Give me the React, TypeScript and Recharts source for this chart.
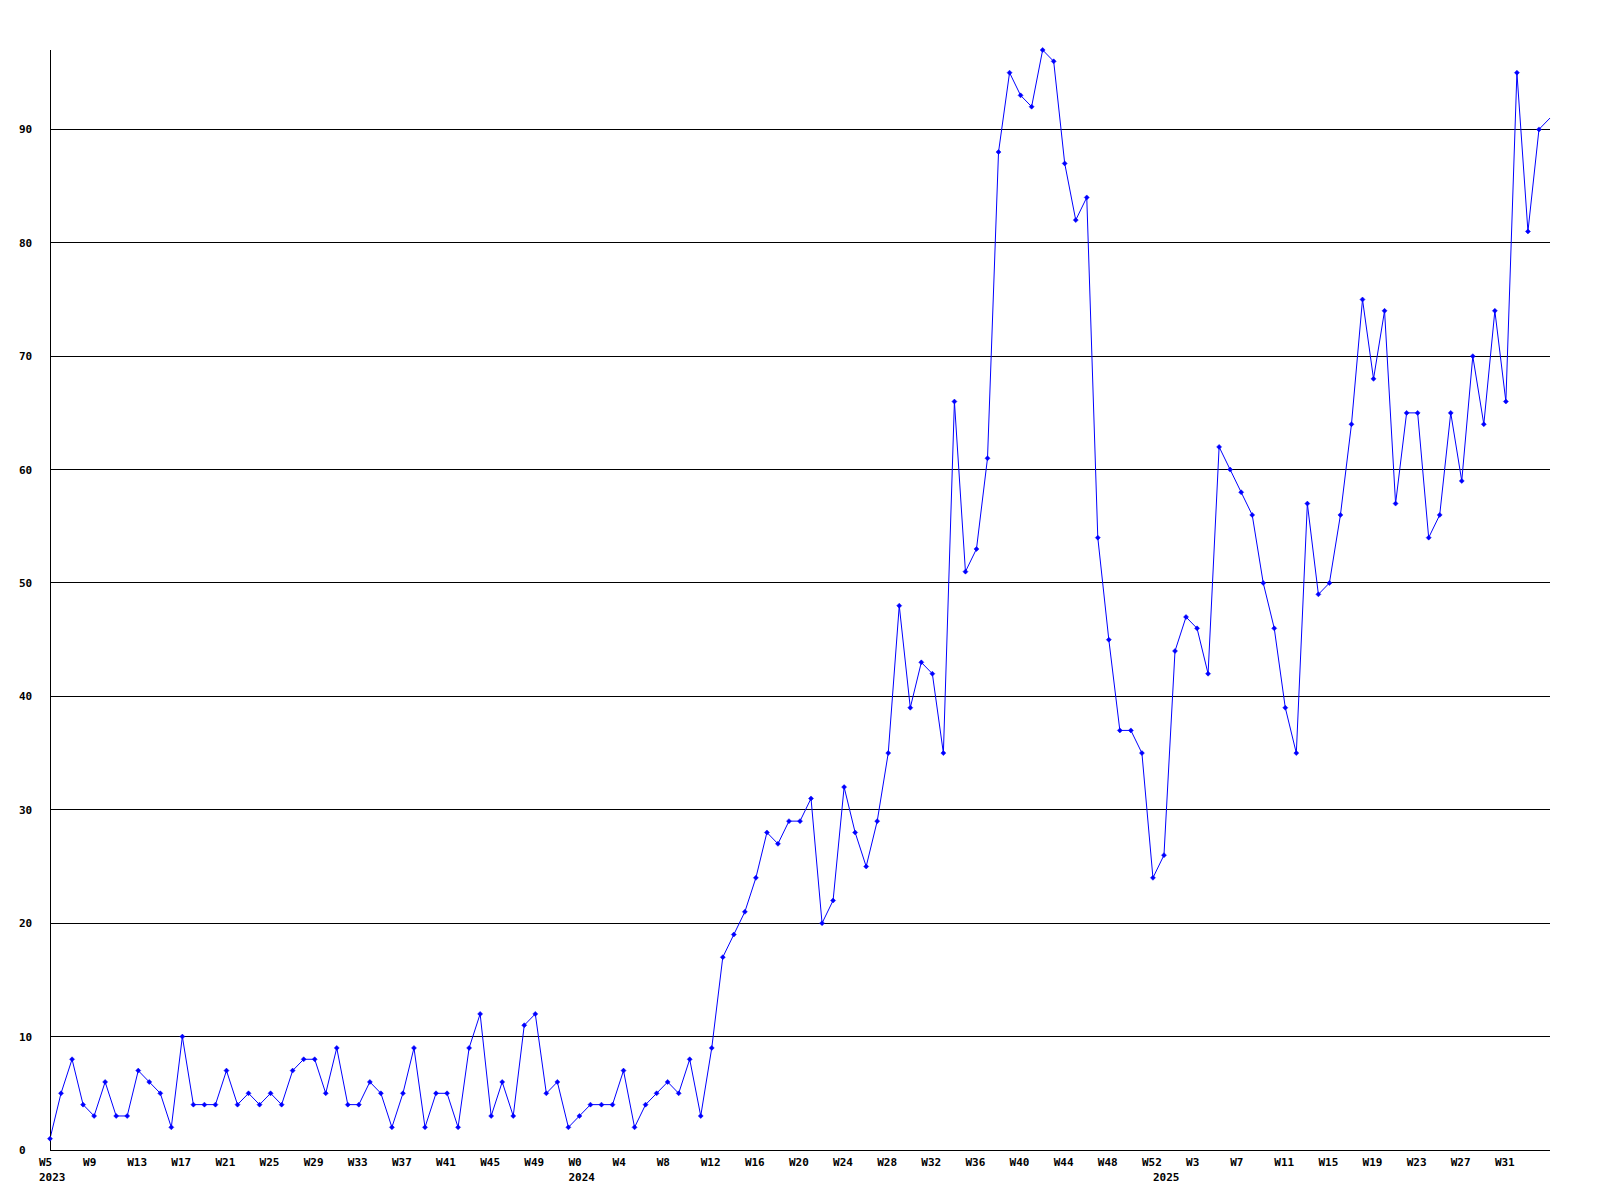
import React from "react";
import { CartesianGrid, Line, LineChart, XAxis, YAxis } from "recharts";

// weekly counts
const weeks2023 = { year: 2023, firstWeek: 5 };
const values2023 = [
  1, 5, 8, 4, 3, 6, 3, 3, 7, 6, 5, 2, 10, 4, 4, 4, 7, 4, 5, 4, 5, 4, 7, 8, 8, 5, 9, 4, 4, 6,
  5, 2, 5, 9, 2, 5, 5, 2, 9, 12, 3, 6, 3, 11, 12, 5, 6, 2,
];
const weeks2024 = { year: 2024, firstWeek: 0 };
const values2024 = [
  3, 4, 4, 4, 7, 2, 4, 5, 6, 5, 8, 3, 9, 17, 19, 21, 24, 28, 27, 29, 29, 31, 20, 22, 32, 28,
  25, 29, 35, 48, 39, 43, 42, 35, 66, 51, 53, 61, 88, 95, 93, 92, 97, 96, 87, 82, 84, 54, 45,
  37, 37, 35, 24,
];
const weeks2025 = { year: 2025, firstWeek: 0 };
const values2025 = [
  26, 44, 47, 46, 42, 62, 60, 58, 56, 50, 46, 39, 35, 57, 49, 50, 56, 64, 75, 68, 74, 57, 65,
  65, 54, 56, 65, 59, 70, 64, 74, 66, 95, 81, 90, 91,
];
const yTicks = [0, 10, 20, 30, 40, 50, 60, 70, 80, 90];
const gridValues = [10, 20, 30, 40, 50, 60, 70, 80, 90];
const labelEvery = 4;

const colors = {
  line: "#0000ff",
  grid: "#000000",
  text: "#000000",
  background: "#ffffff",
};
const font = { fontFamily: "'DejaVu Sans Mono', monospace", fontSize: 11, fontWeight: 700 };

type Point = { i: number; week: number; year: number; value: number; yearStart: boolean };

const data: Point[] = [];
[
  [weeks2023, values2023],
  [weeks2024, values2024],
  [weeks2025, values2025],
].forEach(([meta, values]: any) => {
  values.forEach((v: number, k: number) => {
    data.push({
      i: data.length,
      week: meta.firstWeek + k,
      year: meta.year,
      value: v,
      yearStart: k === 0,
    });
  });
});

const lastIndex = data.length - 1;
// the last week sits on the right edge and gets no label
const xTicks = data
  .filter((d) => d.i < lastIndex && (d.i % labelEvery === 0 || d.yearStart))
  .map((d) => d.i);

const PLOT_BOTTOM = 1150;

function WeekTick(props: any) {
  const { x, payload } = props;
  const d = data[payload.value];
  if (!d) return null;
  return (
    <g>
      {d.i % labelEvery === 0 && (
        <text x={x - 11} y={PLOT_BOTTOM + 16} textAnchor="start" fill={colors.text} style={font}>
          {`W${d.week}`}
        </text>
      )}
      {d.yearStart && (
        <text x={x - 11} y={PLOT_BOTTOM + 31} textAnchor="start" fill={colors.text} style={font}>
          {d.year}
        </text>
      )}
    </g>
  );
}

function ValueTick(props: any) {
  const { y, payload } = props;
  return (
    <text x={19} y={y + 4} textAnchor="start" fill={colors.text} style={font}>
      {payload.value}
    </text>
  );
}

function Marker(props: any) {
  const { cx, cy, index } = props;
  if (index === lastIndex || cx == null) return <g key={`m${index}`} />;
  const r = 2.5;
  return (
    <path
      key={`m${index}`}
      d={`M${cx - r},${cy}L${cx},${cy - r}L${cx + r},${cy}L${cx},${cy + r}Z`}
      fill={colors.line}
      stroke={colors.line}
      strokeWidth={0.5}
    />
  );
}

export default function App() {
  return (
    <div
      style={{
        position: "absolute",
        left: 0,
        top: 0,
        width: 1600,
        height: 1200,
        background: colors.background,
      }}
    >
      <LineChart
        width={1600}
        height={1200}
        data={data}
        margin={{ top: 50, right: 50, bottom: 0, left: 0 }}
      >
        <CartesianGrid
          horizontal
          vertical={false}
          horizontalValues={gridValues}
          stroke={colors.grid}
          strokeDasharray=""
          shapeRendering="crispEdges"
        />
        <XAxis
          dataKey="i"
          type="number"
          domain={[0, lastIndex]}
          ticks={xTicks}
          interval={0}
          height={50}
          tickLine={false}
          axisLine={{ stroke: colors.grid, shapeRendering: "crispEdges" }}
          tick={<WeekTick />}
        />
        <YAxis
          type="number"
          domain={[0, "dataMax"]}
          ticks={yTicks}
          interval={0}
          width={50}
          tickLine={false}
          axisLine={{ stroke: colors.grid, shapeRendering: "crispEdges" }}
          tick={<ValueTick />}
        />
        <Line
          type="linear"
          dataKey="value"
          stroke={colors.line}
          strokeWidth={1}
          dot={Marker}
          activeDot={false}
          isAnimationActive={false}
        />
      </LineChart>
    </div>
  );
}
